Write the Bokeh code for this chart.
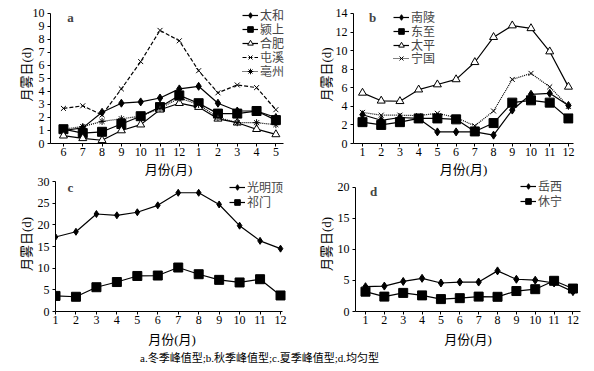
from bokeh.plotting import figure
from bokeh.layouts import column, row
from bokeh.models import Range1d, Legend, LegendItem, Label, Div, FixedTicker
from bokeh.embed import file_html
from bokeh.resources import INLINE

# ---------------- data ----------------
months_a = ["6", "7", "8", "9", "10", "11", "12", "1", "2", "3", "4", "5"]
taihe   = [1.0, 1.2, 2.4, 3.1, 3.2, 3.5, 4.2, 4.4, 3.1, 2.5, 2.5, 2.0]
yingshang = [1.1, 0.8, 0.9, 1.5, 2.1, 2.8, 3.7, 3.1, 2.3, 2.3, 2.5, 1.8]
hefei   = [0.6, 0.4, 0.25, 1.0, 1.45, 2.6, 3.1, 2.8, 1.9, 1.6, 1.1, 0.7]
tunxi   = [2.7, 2.9, 2.2, 4.2, 6.3, 8.7, 7.9, 5.6, 3.9, 4.5, 4.3, 2.6]
bozhou  = [1.1, 1.3, 1.7, 1.9, 2.1, 2.7, 3.5, 3.0, 2.0, 1.6, 1.6, 1.45]

months = [1, 2, 3, 4, 5, 6, 7, 8, 9, 10, 11, 12]
nanling = [3.1, 2.5, 2.8, 2.7, 1.25, 1.25, 1.25, 0.9, 3.6, 5.3, 5.4, 4.1]
dongzhi = [2.3, 2.0, 2.3, 2.7, 2.7, 2.6, 1.3, 2.2, 4.4, 4.65, 4.4, 2.7]
taiping = [5.45, 4.6, 4.55, 5.8, 6.35, 6.9, 8.75, 11.45, 12.7, 12.4, 9.9, 6.1]
ningguo = [3.35, 3.05, 3.05, 3.0, 3.25, 2.8, 1.9, 3.5, 6.9, 7.55, 6.1, 4.0]

guangmingding = [17.2, 18.4, 22.5, 22.2, 22.9, 24.5, 27.4, 27.4, 24.7, 19.8, 16.3, 14.5]
qimen = [3.6, 3.4, 5.6, 6.8, 8.2, 8.3, 10.15, 8.6, 7.3, 6.7, 7.45, 3.7]

yuexi = [4.0, 4.1, 4.85, 5.35, 4.6, 4.75, 4.75, 6.55, 5.2, 5.05, 4.6, 3.2]
xiuning = [3.2, 2.4, 3.0, 2.6, 2.0, 2.15, 2.4, 2.37, 3.3, 3.6, 4.95, 3.7]

x_title = "月份(月)"
y_title = "月雾日(d)"
caption = "a.冬季峰值型;b.秋季峰值型;c.夏季峰值型;d.均匀型"

SERIF = "'Liberation Serif', 'Noto Sans CJK SC'"


def make_fig(fw, fh, xr, yr, yticks, ybounds, xbounds, left, top, right, bottom, ystand, xstand):
    p = figure(frame_width=fw, frame_height=fh, x_range=Range1d(*xr), y_range=Range1d(*yr),
               output_backend="svg", toolbar_location=None,
               min_border_left=left, min_border_top=top,
               min_border_right=right, min_border_bottom=bottom)
    p.outline_line_color = None
    p.grid.visible = False
    p.background_fill_color = None
    p.border_fill_color = None
    for ax in (p.xaxis[0], p.yaxis[0]):
        ax.axis_line_color = "black"
        ax.axis_line_width = 1
        ax.major_tick_line_color = "black"
        ax.major_tick_out = 3
        ax.major_tick_in = 0
        ax.minor_tick_line_color = None
        ax.major_label_text_font = SERIF
        ax.major_label_text_font_size = "12px"
        ax.major_label_text_color = "black"
        ax.axis_label_text_font = SERIF
        ax.axis_label_text_font_size = "13px"
        ax.axis_label_text_font_style = "normal"
        ax.axis_label_text_color = "black"
    p.yaxis[0].ticker = FixedTicker(ticks=yticks)
    p.yaxis[0].bounds = ybounds
    p.yaxis[0].axis_label = y_title
    p.yaxis[0].axis_label_standoff = ystand
    p.yaxis[0].major_label_standoff = 3
    p.xaxis[0].bounds = xbounds
    p.xaxis[0].axis_label = x_title
    p.xaxis[0].axis_label_standoff = xstand
    p.xaxis[0].major_label_standoff = 1
    return p


def series(p, x, y, name, marker, size, fill="black", dash="solid"):
    r1 = p.line(x, y, line_color="black", line_width=1.2, line_dash=dash)
    if marker in ("x", "asterisk"):
        r2 = p.scatter(x, y, marker=marker, size=size, line_color="black", line_width=1)
    else:
        r2 = p.scatter(x, y, marker=marker, size=size, fill_color=fill,
                       line_color="black", line_width=1)
    return LegendItem(label=name, renderers=[r1, r2])


def add_legend(p, items, x, centers):
    # one single-entry legend per item (centers measured up from the frame bottom)
    for it, c in zip(items, centers):
        lg = Legend(items=[it], location=(x, c - 9), orientation="vertical",
                    label_text_font=SERIF, label_text_font_size="12px",
                    label_height=14, glyph_height=14, glyph_width=16,
                    spacing=0, padding=0, margin=0, label_standoff=2,
                    border_line_color=None, background_fill_alpha=0)
        p.add_layout(lg)


def panel_label(p, txt, x, y):
    p.add_layout(Label(x=x, y=y, x_units="screen", y_units="screen", text=txt,
                       text_font=SERIF, text_font_size="13px",
                       text_font_style="bold", text_baseline="middle",
                       text_align="center"))


# ---------------- panel a ----------------
xa = list(range(len(months_a)))
pa = make_fig(236, 138, (-0.67, 11.55), (0, 10.615), list(range(0, 11)), (0, 10), (-0.67, 11.4),
              50, 5, 11, 30, -4, 3)
pa.xaxis[0].ticker = FixedTicker(ticks=xa)
pa.xaxis[0].major_label_overrides = {i: m for i, m in enumerate(months_a)}
items = [
    series(pa, xa, taihe, "太和", "diamond", 8),
    series(pa, xa, yingshang, "颍上", "square", 9),
    series(pa, xa, hefei, "合肥", "triangle", 8, fill="white"),
    series(pa, xa, tunxi, "屯溪", "x", 7, dash="4 2"),
    series(pa, xa, bozhou, "亳州", "asterisk", 7, dash="1 1"),
]
add_legend(pa, items, 192, [128, 114, 100, 86, 72])
panel_label(pa, "a", 20, 126)

# ---------------- panel b ----------------
pb = make_fig(220, 138, (0.52, 12.27), (0, 14.86), list(range(0, 15, 2)), (0, 14), (0.52, 12.27),
              56, 5, 21, 30, -1, 3)
pb.xaxis[0].ticker = FixedTicker(ticks=months)
items = [
    series(pb, months, nanling, "南陵", "diamond", 8),
    series(pb, months, dongzhi, "东至", "square", 9),
    series(pb, months, taiping, "太平", "triangle", 8, fill="white"),
    series(pb, months, ningguo, "宁国", "x", 7, dash="1 1"),
]
add_legend(pb, items, 40, [126, 112, 98, 85])
panel_label(pb, "b", 19, 126)

# ---------------- panel c ----------------
pc = make_fig(233, 135, (1, 12.39), (0, 31.154), list(range(0, 31, 5)), (0, 30), (1, 12.1),
              55, 2, 9, 30, 1, 5)
pc.xaxis[0].ticker = FixedTicker(ticks=months)
items = [
    series(pc, months, guangmingding, "光明顶", "diamond", 7),
    series(pc, months, qimen, "祁门", "square", 9),
]
add_legend(pc, items, 174, [124, 109])
panel_label(pc, "c", 15, 124)

# ---------------- panel d ----------------
pd_ = make_fig(225, 135, (0.47, 12.4), (0, 21.774), list(range(0, 21, 5)), (0, 20), (0.47, 12.4),
               58, 2, 14, 30, 1, 5)
pd_.xaxis[0].ticker = FixedTicker(ticks=months)
items = [
    series(pd_, months, yuexi, "岳西", "diamond", 8),
    series(pd_, months, xiuning, "休宁", "square", 9),
]
add_legend(pd_, items, 165, [125, 110])
panel_label(pd_, "d", 18, 120)

cap = Div(text=caption, width=580, height=16, margin=(2, 0, 0, 0),
          styles={"font-family": SERIF, "font-size": "11px", "color": "black",
                  "padding-left": "140px", "line-height": "14px", "white-space": "nowrap"})

row1 = row(pa, pb, spacing=0)
row2 = row(pc, pd_, spacing=0, margin=(-5, 0, 0, 0))
layout = column(row1, row2, cap, spacing=0)

open("out.html", "w").write(file_html(layout, INLINE))
